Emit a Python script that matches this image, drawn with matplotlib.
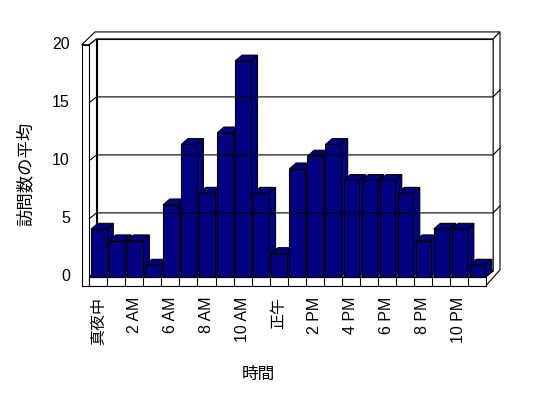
import matplotlib
matplotlib.use('Agg')
import matplotlib.pyplot as plt
from matplotlib.patches import Polygon, Rectangle

plt.rcParams['font.family'] = ['Liberation Sans', 'Noto Sans CJK JP']

# data (hours present in the log; labels shown every other category)
hours = ['真夜中', '1 AM', '2 AM', '5 AM', '6 AM', '7 AM', '8 AM', '9 AM', '10 AM', '11 AM',
         '正午', '1 PM', '2 PM', '3 PM', '4 PM', '5 PM', '6 PM', '7 PM', '8 PM', '9 PM',
         '10 PM', '11 PM']
visits = [4.1, 3.1, 3.1, 1.0, 6.2, 11.4, 7.2, 12.4, 18.6, 7.2, 2.0,
          9.3, 10.4, 11.4, 8.3, 8.3, 8.3, 7.2, 3.1, 4.1, 4.1, 1.0]
yticks = [0, 5, 10, 15, 20]
ymax = 20

n = len(hours)
dx, dy = 0.4, 0.5        # depth of plot (front plane -> back wall)
bdx, bdy = 0.37, 0.5     # depth of a bar
wall = 0.42              # left wall thickness
floor_t = 0.78           # floor thickness
ox, oy = 0.38, 0.6       # back wall thickness
navy = '#000080'
lw = 0.8

fig = plt.figure(figsize=(5.48, 3.98), dpi=100)
ax = fig.add_axes([0, 0, 1, 1])
ax.set_xlim(-89.3 / 18.03, (548 - 89.3) / 18.03)
ax.set_ylim((276.7 - 398) / 11.6, 276.7 / 11.6)
ax.axis('off')

def poly(pts, fc='white'):
    ax.add_patch(Polygon(pts, closed=True, fc=fc, ec='black', lw=lw, joinstyle='miter'))

# back wall + its thickness
poly([(dx, dy), (dx, ymax + dy), (n + dx, ymax + dy), (n + dx, dy)])
poly([(-wall, ymax), (dx - 0.08, ymax + dy + oy), (n + dx + ox, ymax + dy + oy),
      (n + dx, ymax + dy), (dx, ymax + dy), (0, ymax)])
poly([(n + dx, dy), (n + dx, ymax + dy), (n + dx + ox, ymax + dy + oy),
      (n + dx + ox, dy + 0.1), (n, -floor_t), (n, 0)])

# left wall inner face and floor top
poly([(0, 0), (0, ymax), (dx, ymax + dy), (dx, dy)])
poly([(0, 0), (n, 0), (n + dx, dy), (dx, dy)])

# gridlines
for t in yticks[1:-1]:
    ax.plot([0, dx, n + dx, n + dx + ox], [t, t + dy, t + dy, t + dy + oy],
            color='black', lw=lw, solid_joinstyle='miter')

# left wall front face and floor front face with category ticks
ax.add_patch(Rectangle((-wall, -floor_t), wall, ymax + floor_t, fc='white', ec='black', lw=lw))
ax.add_patch(Rectangle((0, -floor_t), n, floor_t, fc='white', ec='black', lw=lw))
for i in range(1, n):
    ax.plot([i, i], [-floor_t, 0], color='black', lw=lw)

# bars
for i, v in enumerate(visits):
    x0 = i + 0.1
    x1 = x0 + 0.86
    poly([(x1, 0), (x1, v), (x1 + bdx, v + bdy), (x1 + bdx, bdy)], navy)
    poly([(x0, v), (x1, v), (x1 + bdx, v + bdy), (x0 + bdx, v + bdy)], navy)
    poly([(x0, 0), (x1, 0), (x1, v), (x0, v)], navy)

# y tick labels
for t in yticks:
    ax.text(-1.08, t, str(t), ha='right', va='center', fontsize=11.5)

# category labels (every other one)
for i in range(0, n, 2):
    ax.text(i + 0.5, -1.72, hours[i], rotation=90, ha='center', va='top', fontsize=11.5)

ax.text(-3.57, 8.9, '訪問数の平均', rotation=90, ha='center', va='center', fontsize=12.5)
ax.text(9.36, -8.47, '時間', ha='center', va='center', fontsize=12)

fig.savefig('out.png', dpi=100)
